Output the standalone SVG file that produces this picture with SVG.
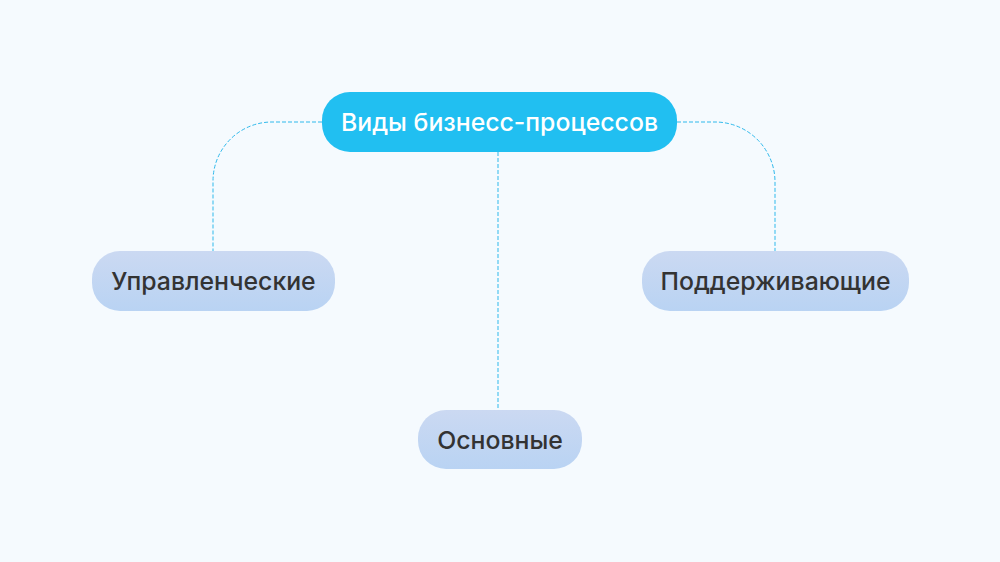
<svg xmlns="http://www.w3.org/2000/svg" width="1000" height="562" viewBox="0 0 1000 562">
<defs>
<linearGradient id="g" x1="0" y1="0" x2="0" y2="1">
<stop offset="0" stop-color="#CBD9F2"/>
<stop offset="1" stop-color="#B9D3F3"/>
</linearGradient>
<style>
.lbl{font-family:Inter,"Noto Sans",sans-serif;font-size:24.8px;font-weight:500;text-anchor:middle;dominant-baseline:central}
.sub{fill:url(#g)}
.con{fill:none;stroke:#2FB9EC;stroke-width:1;stroke-dasharray:4 2}
</style>
</defs>
<rect width="1000" height="562" fill="#F5FAFE"/>
<g id="connectors">
<path class="con" d="M322,122 H272 A59,59 0 0 0 213,181 V251"/>
<path class="con" d="M677,122 H715 A60,60 0 0 1 775,182 V251"/>
<path class="con" d="M498,152 V410"/>
</g>
<g id="root">
<rect x="322" y="92" width="355" height="60" rx="28" fill="#21BFF1"/>
<text class="lbl" x="499.5" y="122" fill="#FFFFFF">Виды бизнесс-процессов</text>
</g>
<g id="n1">
<rect class="sub" x="92" y="251" width="243" height="60" rx="28"/>
<text class="lbl" x="213.5" y="281" fill="#333333">Управленческие</text>
</g>
<g id="n2">
<rect class="sub" x="642" y="251" width="267" height="60" rx="28"/>
<text class="lbl" x="775.5" y="281" fill="#333333">Поддерживающие</text>
</g>
<g id="n3">
<rect class="sub" x="418" y="410" width="164" height="59" rx="28"/>
<text class="lbl" x="500" y="440" fill="#333333">Основные</text>
</g>
</svg>
